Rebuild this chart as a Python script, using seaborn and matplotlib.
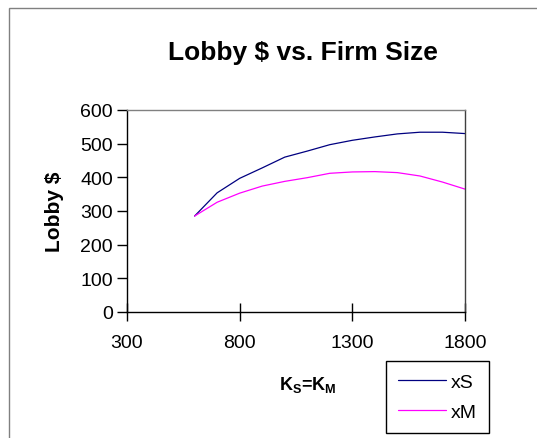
import numpy as np
import pandas as pd
import seaborn as sns
import matplotlib
matplotlib.use("Agg")
import matplotlib.pyplot as plt
from matplotlib.patches import Rectangle

# Firm size (K_S = K_M) and lobbying spend for each firm type
firm_size = [600, 700, 800, 900, 1000, 1100, 1200, 1300, 1400, 1500, 1600, 1700, 1800]
lobby_xS = [285, 354, 397, 428, 460, 478, 497, 510, 520, 529, 534, 534, 530]
lobby_xM = [285, 326, 353, 374, 388, 399, 412, 416, 417, 414, 404, 386, 365]
series_names = ["xS", "xM"]
x_ticks = [300, 800, 1300, 1800]
y_ticks = [0, 100, 200, 300, 400, 500, 600]

df = pd.DataFrame({
    "size": firm_size * 2,
    "lobby": lobby_xS + lobby_xM,
    "series": [series_names[0]] * len(firm_size) + [series_names[1]] * len(firm_size),
})

sns.set_style("white")
plt.rcParams["font.family"] = ["Liberation Sans", "DejaVu Sans"]
plt.rcParams["text.color"] = "black"
plt.rcParams["axes.labelcolor"] = "black"
plt.rcParams["mathtext.fontset"] = "custom"
plt.rcParams["mathtext.rm"] = "Liberation Sans"
plt.rcParams["mathtext.bf"] = "Liberation Sans:bold"

W, H = 537, 439
fig = plt.figure(figsize=(W / 100, H / 100), dpi=100)
fig.patch.set_facecolor("white")

# outer chart-area border (runs off the right and bottom edges)
fig.patches.append(Rectangle((9 / W, -0.1), 1.2, 1 - 9 / H + 0.1,
                             transform=fig.transFigure, fill=False,
                             edgecolor="#808080", linewidth=1.0))

ax = fig.add_axes([127 / W, 1 - 313 / H, (465 - 127) / W, (313 - 111) / H])
sns.lineplot(data=df, x="size", y="lobby", hue="series",
             palette={"xS": "#000080", "xM": "#FF00FF"},
             linewidth=0.9, ax=ax, legend=False)

ax.set_xlim(300, 1800)
ax.set_ylim(0, 600)
ax.set_xticks(x_ticks)
ax.set_yticks(y_ticks)
ax.tick_params(axis="x", bottom=True, direction="inout", length=13, width=1,
               color="black", labelcolor="black", labelsize=14, pad=9)
ax.tick_params(axis="y", left=True, direction="out", length=7, width=1,
               color="black", labelcolor="black", labelsize=14, pad=3)
for side in ["left", "bottom"]:
    ax.spines[side].set_color("black")
    ax.spines[side].set_linewidth(1.0)
ax.spines["top"].set_color("#808080")
ax.spines["top"].set_linewidth(1.0)
ax.spines["right"].set_color("#404040")
ax.spines["right"].set_linewidth(1.0)

ax.set_xlabel("")
ax.set_ylabel("Lobby $", fontsize=15, fontweight="bold", labelpad=12)

fig.text(303 / W, 1 - 53 / H, "Lobby $ vs. Firm Size", ha="center", va="center",
         fontsize=19, fontweight="bold")
fig.text(308 / W, 1 - 385 / H, r"$\mathbf{K_S}$=$\mathbf{K_M}$", ha="center",
         va="center", fontsize=13, fontweight="bold")

handles = [plt.Line2D([], [], color="#000080", linewidth=0.9),
           plt.Line2D([], [], color="#FF00FF", linewidth=0.9)]
leg = fig.legend(handles, series_names, loc="upper left",
                 bbox_to_anchor=(386 / W, 1 - 362 / H), fontsize=14,
                 frameon=True, fancybox=False, framealpha=1,
                 edgecolor="black", handlelength=2.45, handletextpad=0.25,
                 borderpad=0.62, labelspacing=0.65, borderaxespad=0)
leg.get_frame().set_linewidth(1.0)

fig.savefig("out.png", dpi=100)
